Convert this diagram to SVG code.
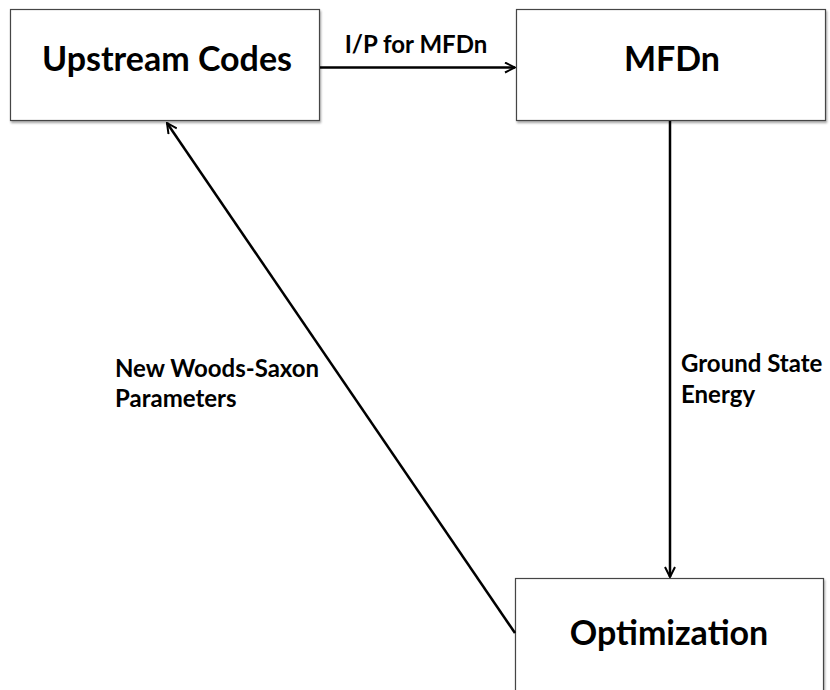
<svg xmlns="http://www.w3.org/2000/svg" width="830" height="690" viewBox="0 0 830 690">
<defs>
<marker id="arr" viewBox="0 0 12 12" refX="11" refY="6" markerWidth="12" markerHeight="12" markerUnits="userSpaceOnUse" orient="auto">
<path d="M1,1 L11,6 L1,11" fill="none" stroke="#000" stroke-width="2"/>
</marker>
<filter id="sh" x="-5%" y="-5%" width="112%" height="115%">
<feDropShadow dx="1" dy="2" stdDeviation="1" flood-color="#000" flood-opacity="0.35"/>
</filter>
</defs>
<style>
.box{fill:#fff;stroke:#444;stroke-width:1.2;filter:url(#sh)}
.t{font-family:Lato,"Liberation Sans",sans-serif;font-weight:bold;fill:#000}
.big{font-size:34px;text-anchor:middle}
.lbl{font-size:24px}
.c{fill:none;stroke:#000;stroke-width:2.5;marker-end:url(#arr)}
</style>
<rect width="830" height="690" fill="#fff"/>
<g id="upstream">
<rect class="box" x="10.5" y="9.5" width="309" height="111"/>
<text class="t big" x="167" y="71">Upstream Codes</text>
</g>
<g id="mfdn">
<rect class="box" x="516.5" y="9.5" width="309" height="111"/>
<text class="t big" x="672" y="71">MFDn</text>
</g>
<g id="optimization">
<rect class="box" x="515.5" y="578.5" width="308" height="130"/>
<text class="t big" x="669" y="645">Optimization</text>
</g>
<g id="connectors">
<line class="c" x1="320" y1="67.5" x2="515" y2="67.5"/>
<text class="t lbl" x="416" y="53" text-anchor="middle">I/P for MFDn</text>
<line class="c" x1="670" y1="121" x2="670" y2="577"/>
<text class="t lbl" x="681" y="372">Ground State</text>
<text class="t lbl" x="681" y="403">Energy</text>
<line class="c" x1="515" y1="633" x2="167" y2="123"/>
<text class="t lbl" x="115" y="377">New Woods-Saxon</text>
<text class="t lbl" x="115" y="407">Parameters</text>
</g>
</svg>
